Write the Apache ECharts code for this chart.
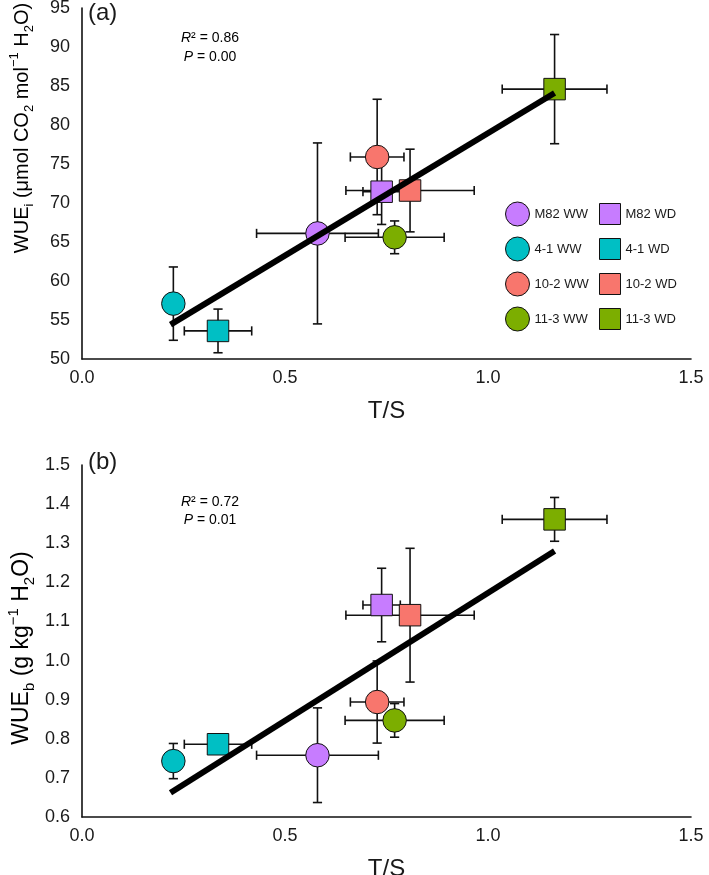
<!DOCTYPE html>
<html>
<head>
<meta charset="utf-8">
<script src="https://cdn.jsdelivr.net/npm/echarts@6/dist/echarts.min.js"></script>
<style>
  html, body { margin: 0; padding: 0; background: #fff; }
  #chart { width: 709px; height: 875px; }
</style>
</head>
<body>
<div id="chart"></div>
<script>
// ---------- data ----------
const seriesNames = ['M82 WW', 'M82 WD', '4-1 WW', '4-1 WD', '10-2 WW', '10-2 WD', '11-3 WW', '11-3 WD'];
const seriesColors = ['#C77CFF', '#C77CFF', '#00BFC4', '#00BFC4', '#F8766D', '#F8766D', '#7CAE00', '#7CAE00'];
const seriesShapes = ['circle', 'rect', 'circle', 'rect', 'circle', 'rect', 'circle', 'rect'];
const legendWW = ['M82 WW', '4-1 WW', '10-2 WW', '11-3 WW'];
const legendWD = ['M82 WD', '4-1 WD', '10-2 WD', '11-3 WD'];

// T/S (x) means and errors, shared by both panels
const tsMean = [0.580, 0.738, 0.225, 0.335, 0.727, 0.808, 0.770, 1.164];
const tsErr  = [0.150, 0.046, 0.020, 0.083, 0.066, 0.158, 0.122, 0.129];

// panel (a): WUEi
const wueiMean = [66.1, 71.45, 57.1, 53.6, 75.9, 71.6, 65.6, 84.6];
const wueiErr  = [11.6, 4.2, 4.7, 2.8, 7.4, 5.3, 2.1, 7.0];
const fitA = [[0.218, 54.4], [1.164, 84.1]];
const statsA = ['0.86', '0.00'];

// panel (b): WUEb
const wuebMean = [0.758, 1.142, 0.743, 0.786, 0.894, 1.116, 0.847, 1.361];
const wuebErr  = [0.121, 0.094, 0.045, 0.020, 0.105, 0.171, 0.043, 0.056];
const fitB = [[0.218, 0.662], [1.164, 1.280]];
const statsB = ['0.72', '0.01'];

const xTicks = [0, 0.5, 1.0, 1.5];
const yTicksA = [50, 55, 60, 65, 70, 75, 80, 85, 90, 95];
const yTicksB = [0.6, 0.7, 0.8, 0.9, 1.0, 1.1, 1.2, 1.3, 1.4, 1.5];

// ---------- chart ----------
const FONT = '"Liberation Sans", Arial, sans-serif';
const TXT = '#1a1a1a';
const chart = echarts.init(document.getElementById('chart'), null, { renderer: 'canvas' });

function errRender(params, api) {
  const x = api.value(0), y = api.value(1), xe = api.value(2), ye = api.value(3);
  const c = api.coord([x, y]);
  const t = api.coord([x, y + ye]), b = api.coord([x, y - ye]);
  const l = api.coord([x - xe, y]), r = api.coord([x + xe, y]);
  const cap = 4.6;
  const st = { stroke: '#111', lineWidth: 1.6 };
  const ln = (x1, y1, x2, y2) => ({ type: 'line', shape: { x1, y1, x2, y2 }, style: st });
  return {
    type: 'group',
    children: [
      ln(c[0], t[1], c[0], b[1]),
      ln(c[0] - cap, t[1], c[0] + cap, t[1]),
      ln(c[0] - cap, b[1], c[0] + cap, b[1]),
      ln(l[0], c[1], r[0], c[1]),
      ln(l[0], c[1] - cap, l[0], c[1] + cap),
      ln(r[0], c[1] - cap, r[0], c[1] + cap)
    ]
  };
}

function makeAxisX(gridIndex) {
  return {
    type: 'value', gridIndex, min: xTicks[0], max: xTicks[xTicks.length - 1], interval: 0.5,
    name: 'T/S', nameLocation: 'middle', nameGap: 40,
    nameTextStyle: { fontFamily: FONT, fontSize: 24, color: TXT },
    axisLine: { show: true, onZero: false, lineStyle: { color: '#111', width: 1.6 } },
    axisTick: { show: false }, splitLine: { show: false },
    axisLabel: { fontFamily: FONT, fontSize: 18, color: TXT, margin: 10, formatter: v => v.toFixed(1) }
  };
}
function makeAxisY(gridIndex, ticks, interval, digits) {
  return {
    type: 'value', gridIndex, min: ticks[0], max: ticks[ticks.length - 1], interval,
    axisLine: { show: true, onZero: false, lineStyle: { color: '#111', width: 1.6 } },
    axisTick: { show: false }, splitLine: { show: false },
    axisLabel: { fontFamily: FONT, fontSize: 18, color: TXT, margin: 12, formatter: v => v.toFixed(digits) }
  };
}

const series = [];
function addPanel(gi, yMean, yErr, fit) {
  series.push({
    type: 'custom', xAxisIndex: gi, yAxisIndex: gi, z: 2, silent: true,
    renderItem: errRender, encode: { x: 0, y: 1 },
    data: tsMean.map((x, i) => [x, yMean[i], tsErr[i], yErr[i]])
  });
  seriesNames.forEach((name, i) => {
    series.push({
      type: 'scatter', name, xAxisIndex: gi, yAxisIndex: gi, z: 3,
      symbol: seriesShapes[i],
      symbolSize: seriesShapes[i] === 'circle' ? 23.5 : 21.5,
      itemStyle: { color: seriesColors[i], borderColor: '#111', borderWidth: 1, opacity: 1 },
      data: [[tsMean[i], yMean[i]]]
    });
  });
  series.push({
    type: 'line', xAxisIndex: gi, yAxisIndex: gi, z: 4, silent: true,
    symbol: 'none', lineStyle: { color: '#000', width: 6 }, data: fit
  });
}
addPanel(0, wueiMean, wueiErr, fitA);
addPanel(1, wuebMean, wuebErr, fitB);

function titleRich(size) {
  const s = Math.round(size * 0.65);
  return {
    n: { fontFamily: FONT, fontSize: size, color: TXT, lineHeight: size + 8 },
    sub: { fontFamily: FONT, fontSize: s, color: TXT, lineHeight: s + 1, verticalAlign: 'bottom' },
    sup: { fontFamily: FONT, fontSize: s, color: TXT, lineHeight: s + 5, verticalAlign: 'top' }
  };
}
const statRich = {
  it: { fontFamily: FONT, fontSize: 14, fontStyle: 'italic', color: TXT },
  n: { fontFamily: FONT, fontSize: 14, color: TXT }
};

const option = {
  backgroundColor: '#fff',
  animation: false,
  grid: [
    { left: 82, top: 8, width: 609, height: 351, outerBoundsMode: 'none', containLabel: false },
    { left: 82, top: 465, width: 609, height: 352, outerBoundsMode: 'none', containLabel: false }
  ],
  xAxis: [makeAxisX(0), makeAxisX(1)],
  yAxis: [makeAxisY(0, yTicksA, 5, 0), makeAxisY(1, yTicksB, 0.1, 1)],
  legend: [
    {
      orient: 'vertical', left: 500, top: 196.5, itemWidth: 24, itemHeight: 24, itemGap: 10,
      data: legendWW, selectedMode: false,
      textStyle: { fontFamily: FONT, fontSize: 13, color: TXT },
      itemStyle: { borderColor: '#111', borderWidth: 1 }
    },
    {
      orient: 'vertical', left: 594, top: 198, itemWidth: 21, itemHeight: 21, itemGap: 13,
      data: legendWD, selectedMode: false,
      textStyle: { fontFamily: FONT, fontSize: 13, color: TXT },
      itemStyle: { borderColor: '#111', borderWidth: 1 }
    }
  ],
  graphic: [
    { type: 'text', left: 88, top: 1, style: { text: '(a)', font: '24px ' + FONT, fill: TXT } },
    { type: 'text', left: 88, top: 450, style: { text: '(b)', font: '24px ' + FONT, fill: TXT } },
    { type: 'text', x: 210, y: 38, style: { text: '{it|R}{n|² = ' + statsA[0] + '}', rich: statRich, align: 'center', verticalAlign: 'middle' } },
    { type: 'text', x: 210, y: 57, style: { text: '{it|P}{n| = ' + statsA[1] + '}', rich: statRich, align: 'center', verticalAlign: 'middle' } },
    { type: 'text', x: 210, y: 502, style: { text: '{it|R}{n|² = ' + statsB[0] + '}', rich: statRich, align: 'center', verticalAlign: 'middle' } },
    { type: 'text', x: 210, y: 520, style: { text: '{it|P}{n| = ' + statsB[1] + '}', rich: statRich, align: 'center', verticalAlign: 'middle' } },
    {
      type: 'text', x: 22, y: 128, rotation: Math.PI / 2,
      style: {
        text: '{n|WUE}{sub|i}{n| (μmol CO}{sub|2}{n| mol}{sup|−1}{n| H}{sub|2}{n|O)}',
        rich: titleRich(20), align: 'center', verticalAlign: 'middle'
      }
    },
    {
      type: 'text', x: 22, y: 648, rotation: Math.PI / 2,
      style: {
        text: '{n|WUE}{sub|b}{n| (g kg}{sup|−1}{n| H}{sub|2}{n|O)}',
        rich: titleRich(23), align: 'center', verticalAlign: 'middle'
      }
    }
  ],
  series
};
chart.setOption(option);
</script>
</body>
</html>
